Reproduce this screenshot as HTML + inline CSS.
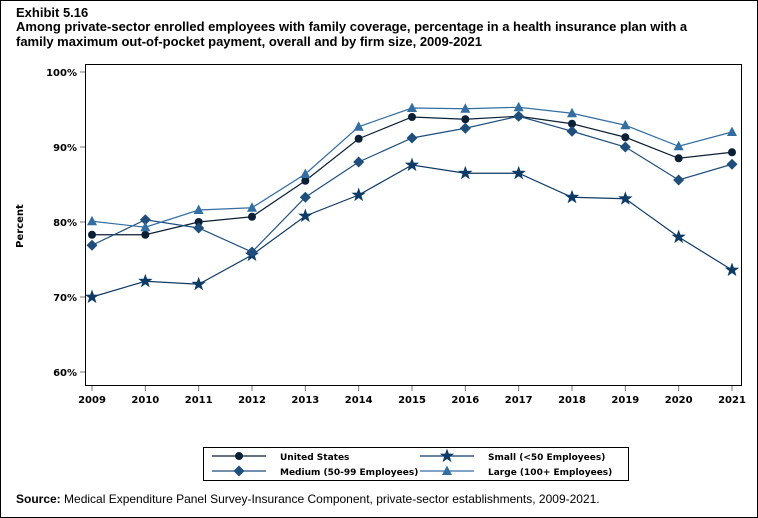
<!DOCTYPE html>
<html><head><meta charset="utf-8"><style>
body{margin:0;background:#fff;font-family:"Liberation Sans",sans-serif}
#wrap{position:relative;width:756px;height:516px;border:1px solid #000;overflow:hidden}
.t{position:absolute;left:15px;font-weight:bold;font-size:13px;color:#000;line-height:15px;font-family:"Liberation Sans",sans-serif}
</style></head><body>
<div id="wrap">
<div class="t" style="top:4px">Exhibit 5.16</div>
<div class="t" style="top:18px;width:705px">Among private-sector enrolled employees with family coverage, percentage in a health insurance plan with a family maximum out-of-pocket payment, overall and by firm size, 2009-2021</div>
<svg id="chart" width="758" height="518" style="position:absolute;left:-1px;top:-1px"></svg>
<div style="position:absolute;left:15px;top:491px;font-size:12px"><b>Source:</b> Medical Expenditure Panel Survey-Insurance Component, private-sector establishments, 2009-2021.</div>
</div>
<script>
const years=[2009,2010,2011,2012,2013,2014,2015,2016,2017,2018,2019,2020,2021];
const usVals=[78.3,78.3,80.0,80.7,85.5,91.1,94.0,93.7,94.1,93.1,91.3,88.5,89.3];
const smallVals=[70.0,72.1,71.7,75.6,80.8,83.6,87.6,86.5,86.5,83.3,83.1,78.0,73.6];
const mediumVals=[76.9,80.3,79.2,76.0,83.3,88.0,91.2,92.5,94.1,92.1,90.0,85.6,87.7];
const largeVals=[80.1,79.3,81.6,81.9,86.4,92.7,95.2,95.1,95.3,94.5,92.9,90.1,92.0];
const yTicks=[60,70,80,90,100];
const NS="http://www.w3.org/2000/svg";
const svg=document.getElementById('chart');
const FF='DejaVu Sans, sans-serif';
function mk(t,a,p){const e=document.createElementNS(NS,t);for(const k in a)e.setAttribute(k,a[k]);(p||svg).appendChild(e);return e;}
const x=i=>92+i*(732-92)/(years.length-1);
const y=v=>72+(100-v)*7.5;
const frame=mk('rect',{x:85.5,y:64.5,width:656,height:321,fill:'none',stroke:'#000','stroke-width':1});


yTicks.forEach(v=>{
 const tk=mk('line',{x1:80,x2:85,y1:y(v),y2:y(v),stroke:'#777'});
 
 
 const tx=mk('text',{x:77,y:y(v)+4,'text-anchor':'end','font-size':10,'font-weight':'bold','font-family':FF});
 tx.textContent=v+'%';
 
 
});
years.forEach((yr,i)=>{
 const tk=mk('line',{x1:x(i),x2:x(i),y1:386,y2:391,stroke:'#777'});
 
 
 const tx=mk('text',{x:x(i),y:403,'text-anchor':'middle','font-size':10,'font-weight':'bold','font-family':FF});
 tx.textContent=yr;
 
 
});
const yt=mk('text',{transform:'translate(23,226) rotate(-90)','text-anchor':'middle','font-size':10,'font-weight':'bold','font-family':FF});
yt.textContent='Percent';


function marker(type,cx,cy,col,g){
 let e;
 if(type==='circle')e=mk('circle',{cx,cy,r:4,fill:col},g);
 else if(type==='diamond')e=mk('polygon',{points:`${cx},${cy-5.5} ${cx+5.5},${cy} ${cx},${cy+5.5} ${cx-5.5},${cy}`,fill:col},g);
 else if(type==='tri')e=mk('polygon',{points:`${cx},${cy-5.5} ${cx+5},${cy+4} ${cx-5},${cy+4}`,fill:col},g);
 else {let p=[];for(let k=0;k<10;k++){const r=k%2?3:7.5,a=-Math.PI/2+k*Math.PI/5;p.push((cx+r*Math.cos(a)).toFixed(1)+','+(cy+r*Math.sin(a)).toFixed(1));}
  e=mk('polygon',{points:p.join(' '),fill:col},g);}
 return e;
}
const series=[
 {name:'series-united-states',vals:usVals,col:'#0b1f35',m:'circle'},
 {name:'series-small',vals:smallVals,col:'#0e3a66',m:'star'},
 {name:'series-medium',vals:mediumVals,col:'#1f4e7d',m:'diamond'},
 {name:'series-large',vals:largeVals,col:'#336ea3',m:'tri'}];
series.forEach(s=>{
 const g=mk('g',{});
 
 
 mk('polyline',{points:s.vals.map((v,i)=>x(i)+','+y(v)).join(' '),fill:'none',stroke:s.col,'stroke-width':1.2},g);
 s.vals.forEach((v,i)=>{const m=marker(s.m,x(i),y(v),s.col,g);
  
  });
});
const lg=mk('g',{});


mk('rect',{x:203.5,y:447.5,width:425,height:33,fill:'none',stroke:'#000'},lg);
const ents=[[series[0],'United States',212,456],[series[1],'Small (<50 Employees)',420,456],[series[2],'Medium (50-99 Employees)',212,471],[series[3],'Large (100+ Employees)',420,471]];
ents.forEach(([s,lab,lx,ly])=>{
 const g=mk('g',{},lg);
 
 
 mk('line',{x1:lx,x2:lx+54,y1:ly,y2:ly,stroke:s.col,'stroke-width':1.2},g);
 marker(s.m,lx+27,ly,s.col,g);
 const t=mk('text',{x:lx+68,y:ly+4,'font-size':9,'font-weight':'bold','font-family':FF},g);
 t.textContent=lab;
});
</script>
</body></html>
